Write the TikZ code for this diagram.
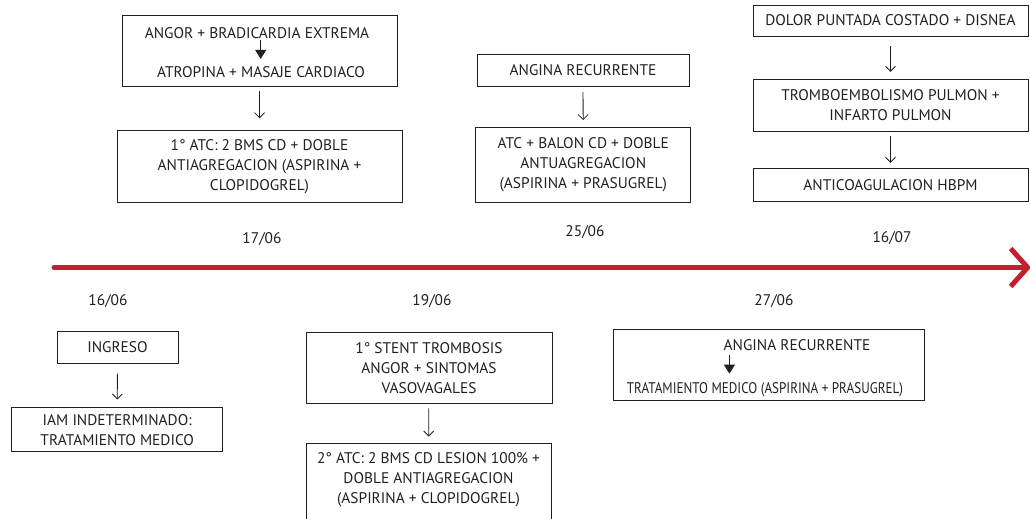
\documentclass[tikz,border=0pt]{standalone}
\usepackage{fontspec}
\setmainfont{PT Sans}
\usetikzlibrary{arrows.meta,positioning}

\definecolor{ink}{RGB}{35,31,32}
\definecolor{timeline}{RGB}{196,30,48}

\tikzset{
  box/.style={draw=ink, line width=0.9pt, inner sep=0pt, text=ink,
    font=\fontsize{15.4}{20}\selectfont, align=center},
  label text/.style={text=ink, font=\fontsize{15.4}{20}\selectfont, align=center, inner sep=1pt},
  link/.style={draw=ink, line width=0.8pt, -{Straight Barb[length=5pt,width=10pt]}},
  inner link/.style={draw=ink, line width=1pt, -{Triangle[length=9pt,width=11pt]}}
}

\begin{document}
\begin{tikzpicture}[x=1pt,y=-1pt]
  \useasboundingbox (0,0) rectangle (1030,519);

  % time line with open arrow head at the right
  \coordinate (start) at (54,267.5);
  \coordinate (end) at (1031,267.5);
  \draw[timeline, line width=5pt, line cap=round,
    -{Straight Barb[length=17pt,width=38pt,line cap=butt]}] (start) -- (end);

  % 17/06 (above the line)
  \node[box, minimum width=275pt, minimum height=71pt] (angorbox) at (259.5,50.5) {};
  \node[label text] (angor) at (257,32.7) {ANGOR + BRADICARDIA EXTREMA};
  \node[label text] (atropina) at (261,71.7) {ATROPINA + MASAJE CARDIACO};
  \draw[inner link, shorten <=0.5pt, shorten >=6pt] (angor.south -| 260.7,0) -- (atropina.north -| 260.7,0);
  \node[box, minimum width=285pt, minimum height=72pt] (atcone) at (259.5,166.7)
    {1° ATC: 2 BMS CD + DOBLE\\ANTIAGREGACION (ASPIRINA +\\CLOPIDOGREL)};
  \draw[link, shorten <=5pt, shorten >=12pt] (angorbox) -- (atcone);
  \node[label text] (dateb) at (262,239) {17/06};

  % 25/06 (above the line)
  \node[box, minimum width=212pt, minimum height=32.5pt] (anginaup) at (583,70.4) {ANGINA RECURRENTE};
  \node[box, minimum width=215pt, minimum height=75pt] (balon) at (583.3,165)
    {ATC + BALON CD + DOBLE\\ANTUAGREGACION\\(ASPIRINA + PRASUGREL)};
  \draw[link, shorten <=5pt, shorten >=7pt] (anginaup) -- (balon);
  \node[label text] (dated) at (585,231.7) {25/06};

  % 16/07 (above the line)
  \node[box, minimum width=275pt, minimum height=31pt] (dolor) at (890.5,20.5) {DOLOR PUNTADA COSTADO + DISNEA};
  \node[box, minimum width=275pt, minimum height=52pt] (trombo) at (890.5,105.3)
    {TROMBOEMBOLISMO PULMON +\\INFARTO PULMON};
  \node[box, minimum width=275pt, minimum height=33pt] (hbpm) at (890.5,184.8) {ANTICOAGULACION HBPM};
  \draw[link, shorten <=10pt, shorten >=7pt] (dolor) -- (trombo);
  \draw[link, shorten <=4pt, shorten >=5pt] (trombo) -- (hbpm);
  \node[label text] (datef) at (892,238) {16/07};

  % 16/06 (below the line)
  \node[label text] (datea) at (108,301) {16/06};
  \node[box, minimum width=121pt, minimum height=31.5pt] (ingreso) at (117.5,347.3) {INGRESO};
  \node[box, minimum width=211pt, minimum height=44pt] (iam) at (117.2,429.9)
    {IAM INDETERMINADO:\\TRATAMIENTO MEDICO};
  \draw[link, shorten <=10pt, shorten >=8pt] (ingreso) -- (iam);

  % 19/06 (below the line)
  \node[label text] (datec) at (432,301) {19/06};
  \node[box, minimum width=246pt, minimum height=71pt] (stent) at (429,368.4)
    {1° STENT TROMBOSIS\\ANGOR + SINTOMAS\\VASOVAGALES};
  \node[box, minimum width=245pt, minimum height=90pt] (atctwobox) at (428.5,488) {};
  \node[label text] (atctwo) at (428.5,480)
    {2° ATC: 2 BMS CD LESION 100\% +\\DOBLE ANTIAGREGACION\\(ASPIRINA + CLOPIDOGREL)};
  \draw[link, shorten <=4pt, shorten >=6pt] (stent) -- (atctwobox);

  % 27/06 (below the line)
  \node[label text] (datee) at (774,301) {27/06};
  \node[box, minimum width=311pt, minimum height=71pt] (tratbox) at (768.5,364.5) {};
  \node[label text] (anginadown) at (797,345) {ANGINA RECURRENTE};
  \node[label text] (medico) at (765,390) {\scalebox{0.85}[1]{TRATAMIENTO MEDICO (ASPIRINA + PRASUGREL)}};
  \draw[inner link, shorten <=3pt, shorten >=8pt] ([xshift=7pt]anginadown.south west) -- ([xshift=7pt]anginadown.south west |- medico.north);
\end{tikzpicture}
\end{document}
